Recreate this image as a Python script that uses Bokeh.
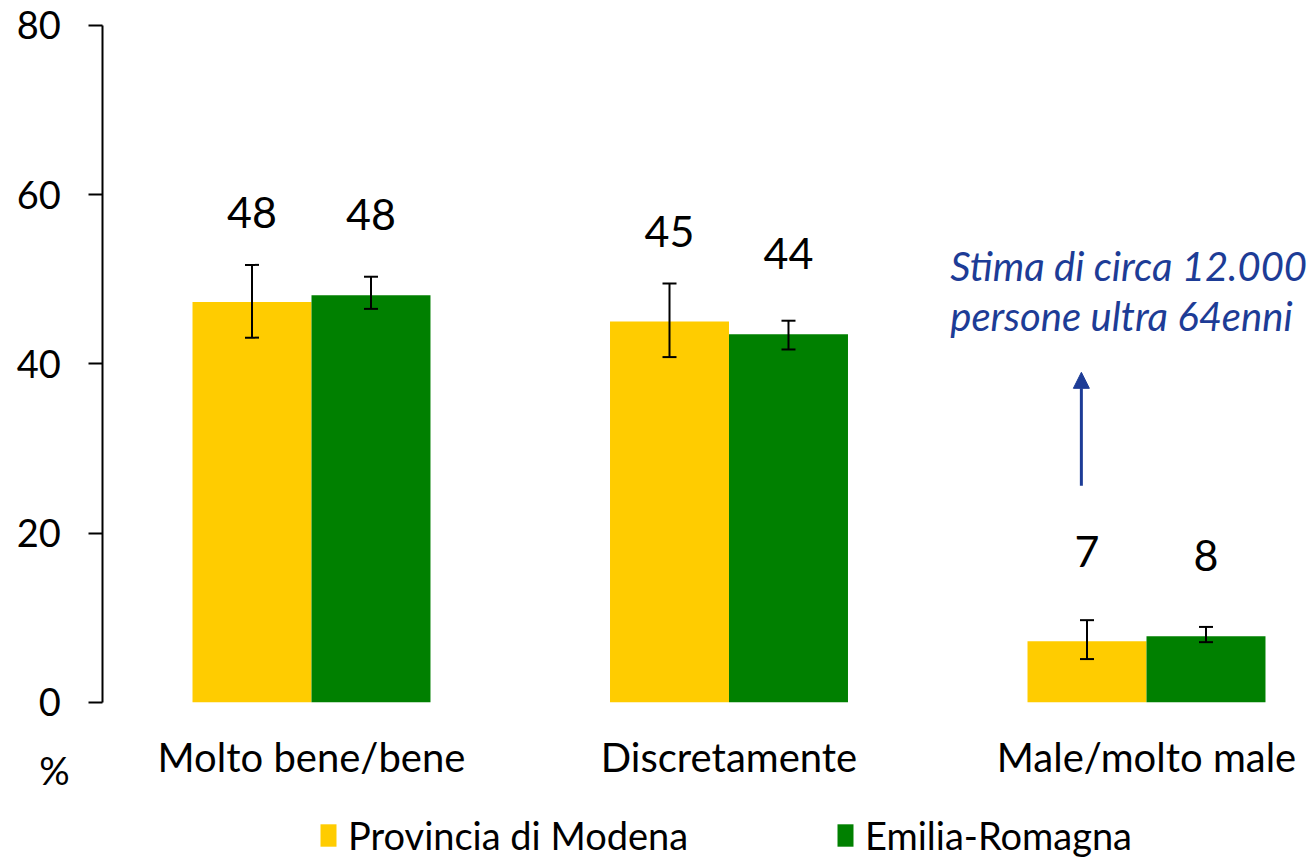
from bokeh.plotting import figure
from bokeh.models import (ColumnDataSource, Range1d, FixedTicker, Whisker, TeeHead,
                          Label, Arrow, NormalHead, Legend, LegendItem)
from bokeh.core.properties import value
from bokeh.embed import file_html
from bokeh.resources import INLINE

# ---- data ----
categories = ["Molto bene/bene", "Discretamente", "Male/molto male"]
series_names = ["Provincia di Modena", "Emilia-Romagna"]
modena = [47.3, 45.0, 7.2]
modena_lo = [43.1, 40.8, 5.1]
modena_hi = [51.7, 49.5, 9.7]
modena_labels = ["48", "45", "7"]
er = [48.1, 43.5, 7.8]
er_lo = [46.5, 41.7, 7.1]
er_hi = [50.3, 45.1, 8.9]
er_labels = ["48", "44", "8"]
y_ticks = [0, 20, 40, 60, 80]
annotation_lines = ["Stima di circa 12.000", "persone ultra 64enni"]

# ---- style ----
YELLOW = "#FFCC00"
GREEN = "#008000"
BLUE = "#1D3C96"
FONT = "Lato"
BAR_W = 0.285
OFFSET = 0.1425
W, H = 1314, 861

centers = [i + 0.5 for i in range(len(categories))]

p = figure(width=W, height=H, output_backend="svg", toolbar_location=None,
           x_range=Range1d(-0.2449, 2.9024), y_range=Range1d(-18.83, 82.955),
           min_border=0, min_border_left=0, min_border_right=0,
           min_border_top=0, min_border_bottom=0)
p.outline_line_color = None
p.xgrid.visible = False
p.ygrid.visible = False
p.background_fill_color = "white"
p.border_fill_color = "white"

src_m = ColumnDataSource(dict(x=[c - OFFSET for c in centers], top=modena, lo=modena_lo,
                              hi=modena_hi, lab=modena_labels,
                              ly=[v + 10.6 for v in modena]))
src_e = ColumnDataSource(dict(x=[c + OFFSET for c in centers], top=er, lo=er_lo,
                              hi=er_hi, lab=er_labels,
                              ly=[v + 9.6 for v in er]))

r_m = p.vbar(x="x", top="top", bottom=0, width=BAR_W, source=src_m,
             fill_color=YELLOW, line_color=None)
r_e = p.vbar(x="x", top="top", bottom=0, width=BAR_W, source=src_e,
             fill_color=GREEN, line_color=None)

for src in (src_m, src_e):
    w = Whisker(base="x", upper="hi", lower="lo", source=src, dimension="height",
                line_color="black", line_width=2, level="annotation",
                upper_head=TeeHead(size=14, line_color="black", line_width=2),
                lower_head=TeeHead(size=14, line_color="black", line_width=2))
    p.add_layout(w)
    p.text(x="x", y="ly", text="lab", source=src, text_align="center",
           text_baseline="middle", text_font=value(FONT), text_font_size="43px",
           text_color="black")

# axes (placed at the zero lines, inside the frame)
p.yaxis.fixed_location = 0
p.yaxis.bounds = (0, 80)
p.yaxis.ticker = FixedTicker(ticks=y_ticks)
p.yaxis.axis_line_width = 2
p.yaxis.axis_line_color = "black"
p.yaxis.major_tick_line_width = 2
p.yaxis.major_tick_line_color = "black"
p.yaxis.major_tick_out = 14
p.yaxis.major_tick_in = 0
p.yaxis.minor_tick_line_color = None
p.yaxis.major_label_standoff = 28
p.yaxis.major_label_text_font = FONT
p.yaxis.major_label_text_font_size = "38px"
p.yaxis.major_label_text_color = "black"

p.xaxis.fixed_location = 0
p.xaxis.ticker = FixedTicker(ticks=centers)
p.xaxis.major_label_overrides = {c: name for c, name in zip(centers, categories)}
p.xaxis.axis_line_color = None
p.xaxis.major_tick_line_color = None
p.xaxis.minor_tick_line_color = None
p.xaxis.major_label_standoff = 25
p.xaxis.major_label_text_font = FONT
p.xaxis.major_label_text_font_size = "40px"
p.xaxis.major_label_text_color = "black"

# "%" axis unit
p.add_layout(Label(x=-0.1156, y=-8.07, text="%", text_align="center", text_baseline="middle",
                   text_font=FONT, text_font_size="38px", text_color="black"))

# annotation text + arrow
for txt, yy in zip(annotation_lines, [51.6, 45.6]):
    p.add_layout(Label(x=2.03, y=yy, text=txt, text_align="left", text_baseline="middle",
                       text_font=FONT, text_font_size="40px", text_font_style="italic",
                       text_color=BLUE))
p.add_layout(Arrow(x_start=2.344, y_start=25.6, x_end=2.344, y_end=39.0,
                   line_color=BLUE, line_width=3,
                   end=NormalHead(size=16, fill_color=BLUE, line_color=BLUE)))

# legends
for r, name, lx in ((r_m, series_names[0], 318), (r_e, series_names[1], 835)):
    lg = Legend(items=[LegendItem(label=name, renderers=[r])], location=(lx, 3),
                orientation="horizontal", glyph_width=20, glyph_height=28,
                label_standoff=10, padding=0, margin=0, border_line_color=None,
                background_fill_alpha=0, label_text_font=FONT,
                label_text_font_size="38px", label_text_color="black")
    p.add_layout(lg)

open("out.html", "w").write(file_html(p, INLINE))
